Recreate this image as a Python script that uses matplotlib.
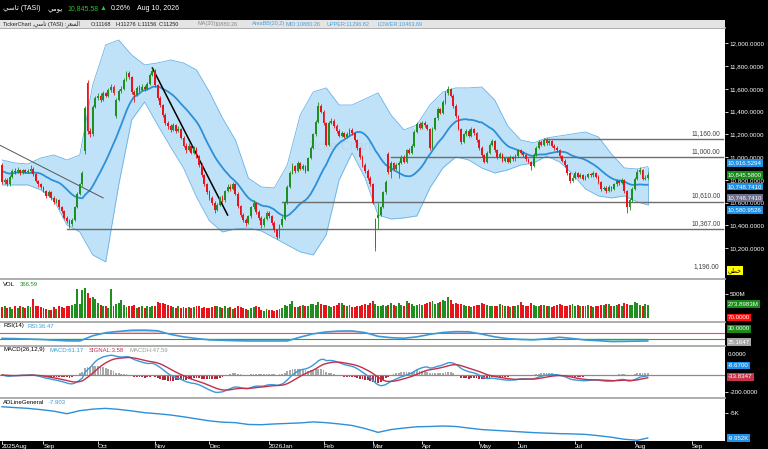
import matplotlib
matplotlib.use('Agg')
import matplotlib.pyplot as plt
from matplotlib.ticker import FuncFormatter
import numpy as np
import pandas as pd

plt.rcParams['font.family'] = ['Liberation Sans', 'DejaVu Sans']

# ---- data (TASI daily) ----
# closes before the first visible candle, only used to warm up MA/MACD
prior_closes = [10880, 10930, 10960, 10900, 10850, 10800, 10790, 10840, 10900, 10950,
                10920, 10870, 10810, 10780, 10820, 10880, 10930, 10960, 10910, 10935]

opens = [10935, 10780, 10800, 10760, 10830, 10880, 10870, 10890, 10860, 10885,
         10870, 10880, 10900, 10850, 10790, 10760, 10740, 10700, 10660, 10690,
         10640, 10610, 10620, 10560, 10530, 10470, 10440, 10410, 10450, 10560,
         10680, 10760, 11050, 11650, 11230, 11200, 11440, 11520, 11540, 11500,
         11560, 11540, 11590, 11620, 11360, 11500, 11580, 11600, 11680, 11740,
         11700, 11570, 11550, 11610, 11590, 11620, 11600, 11640, 11720, 11760,
         11630, 11520, 11460, 11370, 11300, 11270, 11240, 11280, 11230, 11250,
         11170, 11100, 11060, 11100, 11040, 11080, 11010, 10930, 10840, 10760,
         10690, 10640, 10600, 10540, 10580, 10640, 10620, 10700, 10740, 10720,
         10760, 10680, 10570, 10490, 10450, 10420, 10480, 10560, 10600, 10520,
         10470, 10400, 10460, 10510, 10480, 10420, 10360, 10300, 10400, 10460,
         10600, 10740, 10860, 10920, 10880, 10950, 10900, 10920, 10880, 10990,
         11080, 11200, 11310, 11450, 11400, 11300, 11110, 11300, 11320, 11270,
         11230, 11190, 11210, 11180, 11200, 11240, 11210, 11150, 11080, 11000,
         10930, 10880, 10820, 10760, 10200, 10470, 10490, 10560, 10690, 11030,
         10870, 10950, 10900, 10930, 10950, 11000, 10960, 11060, 11040, 11100,
         11220, 11290, 11260, 11300, 11280, 11250, 11080, 11250, 11340, 11420,
         11390, 11480, 11560, 11600, 11540, 11450, 11360, 11250, 11130, 11200,
         11230, 11190, 11250, 11210, 11150, 11080, 11020, 10960, 11040, 11110,
         11140, 11060, 11000, 11030, 10970, 10990, 10960, 11000, 10980, 11010,
         11060, 11040, 11020, 10980, 10960, 10920, 11020, 11080, 11130, 11110,
         11150, 11120, 11140, 11100, 11080, 11060, 11010, 10970, 10930, 10860,
         10790, 10820, 10860, 10830, 10840, 10810, 10830, 10850, 10840, 10860,
         10830, 10780, 10720, 10730, 10700, 10740, 10720, 10760, 10790, 10770,
         10800, 10700, 10560, 10620, 10720, 10810, 10870, 10890, 10810, 10820]

highs = [10950, 10820, 10815, 10845, 10900, 10905, 10910, 10900, 10900, 10895,
         10895, 10930, 10915, 10860, 10800, 10775, 10750, 10715, 10710, 10700,
         10660, 10640, 10630, 10575, 10540, 10485, 10460, 10465, 10570, 10690,
         10775, 10875, 11450, 11680, 11260, 11455, 11540, 11565, 11560, 11580,
         11575, 11610, 11640, 11630, 11515, 11600, 11625, 11695, 11760, 11755,
         11710, 11590, 11625, 11630, 11640, 11635, 11660, 11735, 11785, 11770,
         11640, 11535, 11470, 11385, 11320, 11290, 11300, 11295, 11270, 11260,
         11185, 11120, 11120, 11110, 11100, 11090, 11020, 10945, 10850, 10775,
         10710, 10660, 10615, 10600, 10655, 10665, 10715, 10760, 10765, 10780,
         10770, 10690, 10580, 10510, 10470, 10495, 10575, 10620, 10610, 10535,
         10485, 10475, 10530, 10525, 10490, 10435, 10370, 10415, 10480, 10615,
         10755, 10880, 10945, 10935, 10970, 10960, 10940, 10930, 11005, 11100,
         11215, 11330, 11480, 11470, 11410, 11310, 11320, 11345, 11335, 11290,
         11245, 11230, 11225, 11220, 11260, 11255, 11220, 11160, 11090, 11015,
         10945, 10895, 10835, 10770, 10470, 10600, 10575, 10705, 10795, 11045,
         10965, 10960, 10950, 10970, 11020, 11015, 11075, 11080, 11115, 11240,
         11310, 11305, 11320, 11315, 11295, 11260, 11265, 11355, 11440, 11435,
         11500, 11580, 11625, 11610, 11555, 11465, 11370, 11260, 11215, 11250,
         11245, 11265, 11260, 11220, 11160, 11095, 11030, 11055, 11125, 11160,
         11150, 11070, 11045, 11040, 11005, 11000, 11015, 11010, 11025, 11075,
         11070, 11055, 11030, 10995, 10970, 11035, 11095, 11150, 11150, 11170,
         11165, 11155, 11150, 11115, 11095, 11070, 11020, 10985, 10940, 10870,
         10840, 10875, 10870, 10860, 10850, 10845, 10865, 10860, 10875, 10870,
         10840, 10790, 10750, 10745, 10755, 10750, 10775, 10810, 10800, 10820,
         10810, 10710, 10640, 10735, 10825, 10895, 10910, 10900, 10845, 10870]

lows = [10765, 10765, 10745, 10750, 10820, 10850, 10860, 10845, 10850, 10860,
        10860, 10870, 10835, 10780, 10740, 10720, 10690, 10645, 10650, 10625,
        10590, 10595, 10545, 10510, 10455, 10420, 10380, 10395, 10440, 10550,
        10670, 10750, 11030, 11200, 11180, 11190, 11430, 11505, 11485, 11490,
        11525, 11530, 11575, 11545, 11340, 11490, 11565, 11590, 11670, 11685,
        11555, 11480, 11540, 11575, 11580, 11585, 11590, 11630, 11710, 11615,
        11505, 11440, 11350, 11285, 11250, 11225, 11230, 11215, 11220, 11155,
        11085, 11040, 11050, 11025, 11030, 10995, 10915, 10825, 10745, 10675,
        10625, 10580, 10510, 10530, 10570, 10605, 10610, 10690, 10705, 10710,
        10665, 10555, 10475, 10430, 10395, 10410, 10470, 10545, 10505, 10450,
        10375, 10390, 10450, 10465, 10405, 10345, 10280, 10290, 10390, 10450,
        10590, 10730, 10850, 10865, 10870, 10885, 10890, 10865, 10875, 10980,
        11070, 11190, 11300, 11385, 11280, 11095, 11100, 11290, 11255, 11215,
        11175, 11180, 11165, 11170, 11190, 11195, 11135, 11065, 10985, 10915,
        10865, 10800, 10745, 10585, 10180, 10370, 10480, 10550, 10680, 10855,
        10820, 10885, 10890, 10820, 10940, 10945, 10950, 11025, 11030, 11090,
        11210, 11245, 11250, 11265, 11235, 11065, 11070, 11240, 11330, 11375,
        11380, 11470, 11550, 11525, 11435, 11345, 11235, 11115, 11120, 11190,
        11175, 11180, 11195, 11135, 11065, 11005, 10945, 10950, 11030, 11100,
        11045, 10985, 10990, 10955, 10960, 10945, 10950, 10965, 10970, 11000,
        11025, 11005, 10965, 10945, 10890, 10910, 11010, 11070, 11095, 11100,
        11105, 11110, 11085, 11065, 11045, 10995, 10955, 10915, 10845, 10770,
        10780, 10810, 10815, 10820, 10795, 10800, 10820, 10825, 10830, 10815,
        10765, 10705, 10710, 10685, 10690, 10705, 10710, 10750, 10755, 10760,
        10685, 10510, 10540, 10610, 10710, 10800, 10855, 10795, 10800, 10810]

closes = [10780, 10800, 10760, 10830, 10880, 10870, 10890, 10860, 10885, 10870,
          10880, 10900, 10850, 10790, 10760, 10740, 10700, 10660, 10690, 10640,
          10610, 10620, 10560, 10530, 10470, 10440, 10410, 10450, 10560, 10680,
          10760, 10860, 11430, 11230, 11200, 11440, 11520, 11540, 11500, 11560,
          11540, 11590, 11620, 11560, 11500, 11580, 11600, 11680, 11740, 11700,
          11570, 11550, 11610, 11590, 11620, 11600, 11640, 11720, 11760, 11630,
          11520, 11460, 11370, 11300, 11270, 11240, 11280, 11230, 11250, 11170,
          11100, 11060, 11100, 11040, 11080, 11010, 10930, 10840, 10760, 10690,
          10640, 10600, 10540, 10580, 10640, 10620, 10700, 10740, 10720, 10760,
          10680, 10570, 10490, 10450, 10420, 10480, 10560, 10600, 10520, 10470,
          10400, 10460, 10510, 10480, 10420, 10360, 10300, 10400, 10460, 10600,
          10740, 10860, 10920, 10880, 10950, 10900, 10920, 10880, 10990, 11080,
          11200, 11310, 11450, 11400, 11300, 11110, 11300, 11320, 11270, 11230,
          11190, 11210, 11180, 11200, 11240, 11210, 11150, 11080, 11000, 10930,
          10880, 10820, 10760, 10600, 10460, 10490, 10560, 10690, 10780, 10870,
          10950, 10900, 10930, 10950, 11000, 10960, 11060, 11040, 11100, 11220,
          11290, 11260, 11300, 11280, 11250, 11080, 11250, 11340, 11420, 11390,
          11480, 11560, 11600, 11540, 11450, 11360, 11250, 11130, 11200, 11230,
          11190, 11250, 11210, 11150, 11080, 11020, 10960, 11040, 11110, 11140,
          11060, 11000, 11030, 10970, 10990, 10960, 11000, 10980, 11010, 11060,
          11040, 11020, 10980, 10960, 10920, 11020, 11080, 11130, 11110, 11150,
          11120, 11140, 11100, 11080, 11060, 11010, 10970, 10930, 10860, 10790,
          10820, 10860, 10830, 10840, 10810, 10830, 10850, 10840, 10860, 10830,
          10780, 10720, 10730, 10700, 10740, 10720, 10760, 10790, 10770, 10800,
          10700, 10560, 10620, 10720, 10810, 10870, 10890, 10810, 10820, 10846]

volumes_m = [220, 240, 200, 230, 190, 250, 210, 240, 220, 200,
             250, 230, 400, 260, 240, 220, 210, 190, 170, 160,
             230, 180, 250, 220, 210, 240, 260, 280, 290, 610,
             290, 590, 630, 520, 410, 440, 390, 320, 280, 250,
             240, 210, 610, 250, 290, 320, 380, 270, 220, 240,
             260, 280, 200, 230, 250, 210, 250, 220, 240, 260,
             330, 310, 320, 300, 270, 250, 220, 210, 240, 200,
             220, 200, 230, 210, 220, 240, 250, 200, 230, 200,
             210, 230, 250, 240, 220, 200, 250, 210, 230, 190,
             200, 240, 220, 210, 180, 160, 200, 230, 250, 220,
             170, 140, 180, 160, 170, 150, 160, 190, 210, 280,
             240, 300, 360, 230, 220, 250, 280, 240, 260, 300,
             290, 280, 340, 300, 270, 280, 250, 230, 260, 280,
             310, 320, 270, 240, 280, 230, 220, 240, 250, 280,
             300, 280, 320, 360, 300, 240, 260, 280, 240, 270,
             320, 280, 250, 310, 280, 260, 350, 310, 290, 250,
             280, 300, 270, 300, 320, 330, 360, 300, 310, 330,
             370, 350, 430, 370, 300, 320, 300, 290, 280, 260,
             250, 230, 260, 270, 280, 320, 290, 270, 260, 250,
             260, 240, 290, 280, 260, 250, 230, 250, 240, 280,
             340, 280, 260, 240, 310, 280, 260, 250, 280, 270,
             240, 260, 230, 250, 280, 300, 270, 260, 240, 280,
             300, 260, 280, 240, 250, 260, 280, 250, 230, 240,
             260, 280, 270, 300, 300, 260, 240, 280, 300, 260,
             320, 290, 270, 280, 330, 310, 280, 260, 300, 274]

# Bollinger area (as drawn), RSI(14) and A/D line, every 5 sessions + last session
bb_upper = [10975, 10949, 10940, 10993, 11019, 10975, 11019, 11634, 11985, 12029,
            11897, 11810, 11827, 11853, 11827, 11766, 11572, 11344, 11151, 10817,
            10738, 10730, 10931, 11370, 11572, 11608, 11458, 11458, 11511, 11564,
            11370, 11239, 11283, 11458, 11572, 11608, 11608, 11616, 11502, 11274,
            11151, 11125, 11169, 11186, 11204, 11221, 11177, 11028, 10905, 10896, 10917]
bb_lower = [10756, 10756, 10756, 10712, 10624, 10405, 10343, 10141, 10080, 10756,
            11327, 11485, 11283, 11090, 10905, 10651, 10440, 10343, 10370, 10378,
            10352, 10291, 10229, 10168, 10141, 10317, 10800, 11037, 10817, 10492,
            10457, 10466, 10484, 10730, 10905, 11002, 10975, 10905, 10861, 10888,
            10931, 10949, 11010, 10958, 10852, 10721, 10659, 10642, 10659, 10607, 10581]
rsi_values = [31, 29, 26, 23, 18, 13, 12, 50, 72, 82,
              90, 91, 86, 60, 42, 30, 20, 17, 14, 12,
              12, 12, 12, 40, 64, 78, 84, 85, 73, 46,
              36, 32, 42, 60, 74, 80, 79, 62, 42, 29,
              23, 20, 28, 39, 30, 19, 14, 8, 9, 11, 12]
ad_line_k = [-3.83, -4.00, -4.15, -4.40, -4.70, -5.20, -4.60, -4.30, -4.15, -4.35,
             -4.65, -5.00, -5.20, -5.45, -5.80, -6.20, -6.60, -6.85, -6.95, -7.30,
             -7.35, -7.20, -7.10, -7.00, -6.80, -6.95, -7.20, -7.50, -8.10, -8.85,
             -8.30, -8.00, -7.75, -7.70, -7.60, -7.70, -8.00, -8.30, -8.45, -8.60,
             -8.75, -8.90, -9.00, -9.10, -9.15, -9.25, -9.50, -9.80, -10.20, -10.40, -9.95]

month_starts = [0, 16, 37, 59, 80, 103, 124, 143, 162, 184, 199, 221, 244, 266]
month_labels = ['2025Aug', 'Sep', 'Oct', 'Nov', 'Dec', '2026Jan', 'Feb', 'Mar',
                'Apr', 'May', 'Jun', 'Jul', 'Aug', 'Sep']

levels = [11160, 11000, 10610, 10367]
level_starts = [209, 150, 108, 25]
trend_gray = ([-1, 39], [11107, 10642])
trend_black = ([58, 87], [11782, 10492])

# ---- indicators ----
n = len(closes)
x = np.arange(n)
o = np.array(opens, float)
h = np.array(highs, float)
l = np.array(lows, float)
c = np.array(closes, float)
s = pd.Series(prior_closes + closes, dtype=float)
k = len(prior_closes)
ma = s.rolling(20).mean().values[k:]
ema12 = s.ewm(span=12, adjust=False).mean()
ema26 = s.ewm(span=26, adjust=False).mean()
macd = (ema12 - ema26)
signal = macd.ewm(span=9, adjust=False).mean()
macd = macd.values[k:]
signal = signal.values[k:]
hist = macd - signal
step_idx = list(range(0, n, 5)) + [n - 1]

GREEN = '#1f8f1f'
RED = '#e8141c'
BLUE = '#2d8fd8'
col = np.where(c >= o, GREEN, RED)

# ---- figure ----
W, H = 768, 449
fig = plt.figure(figsize=(W / 100, H / 100), dpi=100, facecolor='black')
X0, X1 = -0.77, 278.8


def px_axes(x0, y0, x1, y1):
    return fig.add_axes([x0 / W, 1 - y1 / H, (x1 - x0) / W, (y1 - y0) / H])


def ftext(px, py, txt, color='black', size=4.5, ha='left', **kw):
    fig.text(px / W, 1 - py / H, txt, color=color, fontsize=size, ha=ha, va='center', **kw)


def rbox(py, txt, fc, tc='white'):
    fig.text(728 / W, 1 - py / H, txt, color=tc, fontsize=4.4, ha='left', va='center',
             bbox=dict(boxstyle='square,pad=0.18', fc=fc, ec='none'), zorder=20)


def style(ax, ylim, yticks, fmt):
    ax.set_facecolor('white')
    ax.set_xlim(X0, X1)
    ax.set_ylim(*ylim)
    for sp in ['left', 'right', 'bottom']:
        ax.spines[sp].set_visible(False)
    ax.spines['top'].set_color('#a8a8a8')
    ax.spines['top'].set_linewidth(1.3)
    ax.yaxis.tick_right()
    ax.set_yticks(yticks)
    ax.yaxis.set_major_formatter(FuncFormatter(fmt))
    ax.tick_params(axis='y', colors='white', labelcolor='white', labelsize=4.5,
                   length=2.5, width=0.6, pad=1)
    ax.tick_params(axis='x', bottom=False, labelbottom=False)


# price panel
ax = px_axes(0, 28, 725, 279)
style(ax, (9930, 12134), list(range(10200, 12001, 200)), lambda v, p: f'{v:,.4f}')
ax.fill_between(step_idx, bb_lower, bb_upper, color='#bfe2f8', lw=0, zorder=1)
ax.plot(step_idx, bb_upper, color='#6ab2e6', lw=0.6, zorder=1.5)
ax.plot(step_idx, bb_lower, color='#6ab2e6', lw=0.6, zorder=1.5)
ax.vlines(n - 1, bb_lower[-1], bb_upper[-1], color='#6ab2e6', lw=0.6, zorder=1.5)
ax.plot(x, ma, color=BLUE, lw=1.3, zorder=2)
ax.text(118, 11060, 'TickerChart', fontsize=9, color='#9fb8cc', alpha=0.3, zorder=1.6)
for lv, st in zip(levels, level_starts):
    ax.plot([st, 278], [lv, lv], color='#6d6d6d', lw=1.0, zorder=2.5)
    ax.text(277, lv + 18, f'{lv:,.2f}', fontsize=4.8, color='#404040', ha='right', va='bottom')
ax.text(0.992, 0.034, '1,196.00', transform=ax.transAxes, fontsize=4.8, color='#404040',
        ha='right', va='bottom')
ax.plot(*trend_gray, color='#555555', lw=0.7, zorder=3)
ax.plot(*trend_black, color='black', lw=1.1, zorder=3)
ax.vlines(x, l, h, colors=col, lw=0.6, zorder=4)
ax.bar(x, np.maximum(np.abs(c - o), 8), bottom=np.minimum(o, c), width=0.7,
       color=col, lw=0, zorder=5)

# volume panel
av = px_axes(0, 279, 725, 322)
style(av, (-83, 812), [500], lambda v, p: f'{v:.0f}M')
av.bar(x, volumes_m, width=0.75, color=col, lw=0)

# RSI panel
ar = px_axes(0, 322, 725, 346)
style(ar, (-24.5, 150), [], lambda v, p: '')
rsi = np.array(rsi_values, float)
ar.axhline(70, color='#e05555', lw=0.8)
ar.axhline(30, color='#3d9a3d', lw=0.8)
ar.fill_between(step_idx, rsi, 70, where=rsi > 70, interpolate=True, color='#f4c6c6', lw=0)
ar.fill_between(step_idx, rsi, 30, where=rsi < 30, interpolate=True, color='#bfe6d2', lw=0)
ar.plot(step_idx, rsi, color='#3a9ad9', lw=1.2)

# MACD panel
am = px_axes(0, 346, 725, 398)
style(am, (-275, 347), [-200], lambda v, p: f'{v:,.4f}')
am.axhline(0, color='#8a8a8a', lw=0.9)
am.bar(x, hist, width=0.7, color=np.where(hist >= 0, '#a9a9a9', '#b5263a'), lw=0)
am.plot(x, macd, color='#3a9ad9', lw=1.0)
am.plot(x, signal, color='#c0304a', lw=1.0)

# A/D line panel
aa = px_axes(0, 398, 725, 441)
style(aa, (-10.54, -2.12), [-5], lambda v, p: f'{v:.0f}K')
aa.plot(step_idx, ad_line_k, color=BLUE, lw=1.0)
aa.set_xticks(month_starts)
aa.set_xticklabels(month_labels)
aa.tick_params(axis='x', bottom=True, labelbottom=True, colors='white', labelcolor='white',
               labelsize=4.6, length=2, width=0.6, pad=0.5)
for t in aa.get_xticklabels():
    t.set_ha('left')

# header and info bar
tasi = '\uFEF2\uFEB3\uFE8E\uFE97'
daily = '\uFEF2\uFEE3\uFEEE\uFEF3'
ftext(3, 9, tasi + ' (TASI)', 'white', 5)
ftext(48, 9, daily, 'white', 5)
ftext(67, 9, '10,845.58', '#2fbf2f', 5)
ftext(100, 9, '\u25B2', '#2fbf2f', 5)
ftext(111, 9, '0.26%', 'white', 5)
ftext(137, 9, 'Aug 10, 2026', 'white', 5)

info = px_axes(0, 20, 725, 28)
info.set_facecolor('#e4e4e4')
info.set_xticks([])
info.set_yticks([])
for sp in info.spines.values():
    sp.set_visible(False)
price_word = '\uFEAE\uFECC\uFEB4\uFEDF\uFE8D'
info_items = [(3, 'TickerChart ,' + tasi + ' (TASI) :' + price_word, '#222222'),
              (91, 'O:11168', '#222222'), (115, 'H:11276', '#222222'),
              (138, 'L:11156', '#222222'), (159, 'C:11250', '#222222'),
              (197, 'MA(20)', '#8a8a8a'), (215, '10880.26', '#8a8a8a'),
              (252, 'AreaBB(20,2)', '#4aa3df'), (285, 'MID:10880.26', '#4aa3df'),
              (327, 'UPPER:11296.82', '#4aa3df'), (377, 'LOWER:10463.69', '#4aa3df')]
for px, txt, cl in info_items:
    ftext(px, 24, txt, cl, 4.0)

# panel titles
ftext(3, 284, 'VOL', 'black', 4.3)
ftext(20, 284, '366.59', GREEN, 4.3)
ftext(3, 326, 'RSI(14)', 'black', 4.3)
ftext(28, 326, 'RSI:36.47', '#3a9ad9', 4.3)
ftext(3, 350, 'MACD(26,12,9)', 'black', 4.3)
ftext(50, 350, 'MACD:61.17', '#3a9ad9', 4.3)
ftext(89, 350, 'SIGNAL:3.58', '#c0304a', 4.3)
ftext(130, 350, 'MACDH:47.59', '#9a9a9a', 4.3)
ftext(3, 402, 'ADLineGeneral', 'black', 4.3)
ftext(49, 402, '-7.903', '#3a9ad9', 4.3)

# right-side value boxes
rbox(163, '10,916.5294', '#1e90e8')
rbox(175, '10,845.5800', '#1a8a1a')
rbox(186.5, '10,748.7410', '#1e90e8')
rbox(198, '10,748.7410', '#6e6e8e')
rbox(210, '10,580.9526', '#1e90e8')
rbox(270.5, '\uFEF2\uFEC4\uFEA7', '#ffff00', 'black')
rbox(304, '273.8983M', '#1a8a1a')
rbox(317.5, '70.0000', '#ff1010')
rbox(329, '30.0000', '#1a8a1a')
rbox(342, '25.1647', '#a8a8a8')
rbox(354, '0.0000', 'black')
rbox(365.5, '-8.6700', '#1e90e8')
rbox(377, '-33.8347', '#c8344a')
rbox(438, '-9.952K', '#1e90e8')

fig.savefig('out.png', dpi=100, facecolor='black')
